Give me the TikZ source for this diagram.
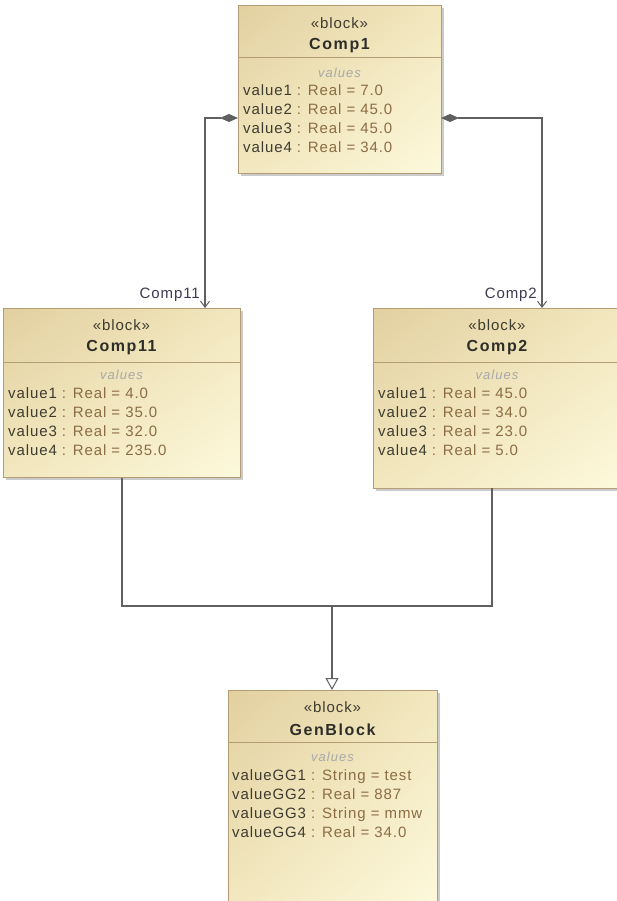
\documentclass[tikz,border=0pt]{standalone}
\usepackage{fontspec}
\setmainfont{Liberation Sans}
\newfontfamily\rowfont[LetterSpace=6]{Liberation Sans}
\newfontfamily\namefont[LetterSpace=10]{Liberation Sans}
\newfontfamily\compfont[LetterSpace=8]{Liberation Sans}
\usetikzlibrary{arrows.meta,shadows,shadings}
\definecolor{bborder}{HTML}{B49C74}
\definecolor{fillul}{HTML}{E2D0A0}
\definecolor{fillur}{HTML}{F2E7BE}
\definecolor{fillll}{HTML}{F2E7BE}
\definecolor{filllr}{HTML}{FDF9DC}
\definecolor{namec}{HTML}{3E3C30}
\definecolor{typec}{HTML}{8C6C44}
\definecolor{titlec}{HTML}{2E2E28}
\definecolor{compc}{HTML}{A8A8A8}
\definecolor{linec}{HTML}{606060}
\definecolor{rolec}{HTML}{3C3A50}
\begin{document}
\begin{tikzpicture}[x=1pt,y=-1pt,
  blockbox/.style={rectangle, draw=bborder, line width=1pt, anchor=north west, inner sep=0pt,
    upper left=fillul, upper right=fillur, lower left=fillll, lower right=filllr,
    drop shadow={shadow xshift=2.5pt, shadow yshift=-2.5pt, fill=black!40, opacity=0.5}},
  divider/.style={draw=bborder, line width=1pt},
  stereo/.style={font=\rowfont\fontsize{15}{18}\selectfont, text=namec, inner sep=0pt},
  bname/.style={font=\namefont\fontsize{16}{19}\selectfont\bfseries, text=titlec, inner sep=0pt},
  comptitle/.style={font=\compfont\fontsize{13}{16}\selectfont\itshape, text=compc, inner sep=0pt},
  row/.style={font=\rowfont\fontsize{15}{18}\selectfont, text=namec, anchor=west, inner sep=0pt,
    text height=12.5pt, text depth=1.5pt},
  rolelabel/.style={font=\rowfont\fontsize{15}{18}\selectfont, text=rolec, inner sep=0pt},
  conn/.style={draw=linec, line width=1.2pt},
  compo/.style={conn, {Diamond[length=18pt,width=8pt,fill=linec]}-{Straight Barb[length=6pt,width=9pt,line width=1pt]}},
  gener/.style={conn, -{Triangle[open,length=12pt,width=13pt,line width=1pt,fill=white]}}
]
\path[use as bounding box, fill=white] (0,0) rectangle (616,901);

% ---------- Comp1 ----------
\node[blockbox, minimum width=203pt, minimum height=168pt] (c1) at (238,5) {};
\draw[divider] (238,58) -- (441,58);
\node[stereo] (c1s) at (339.5,23) {«block»};
\node[bname] (c1n) at (339.5,46) {Comp1};
\node[comptitle] (c1v) at (339.5,73) {values};
\node[row] (c1r1) at (243,90) {value1 \textcolor{typec}{: Real = 7.0}};
\node[row] (c1r2) at (243,109) {value2 \textcolor{typec}{: Real = 45.0}};
\node[row] (c1r3) at (243,128) {value3 \textcolor{typec}{: Real = 45.0}};
\node[row] (c1r4) at (243,147) {value4 \textcolor{typec}{: Real = 34.0}};

% ---------- Comp11 ----------
\node[blockbox, minimum width=237pt, minimum height=169pt] (c11) at (3,308) {};
\draw[divider] (3,362) -- (240,362);
\node[stereo] (c11s) at (121.5,325) {«block»};
\node[bname] (c11n) at (121.5,348) {Comp11};
\node[comptitle] (c11v) at (121.5,375) {values};
\node[row] (c11r1) at (8,393) {value1 \textcolor{typec}{: Real = 4.0}};
\node[row] (c11r2) at (8,412) {value2 \textcolor{typec}{: Real = 35.0}};
\node[row] (c11r3) at (8,431) {value3 \textcolor{typec}{: Real = 32.0}};
\node[row] (c11r4) at (8,450) {value4 \textcolor{typec}{: Real = 235.0}};

% ---------- Comp2 ----------
\node[blockbox, minimum width=248pt, minimum height=180pt] (c2) at (373,308) {};
\draw[divider] (373,362) -- (621,362);
\node[stereo] (c2s) at (497,325) {«block»};
\node[bname] (c2n) at (497,348) {Comp2};
\node[comptitle] (c2v) at (497,375) {values};
\node[row] (c2r1) at (378,393) {value1 \textcolor{typec}{: Real = 45.0}};
\node[row] (c2r2) at (378,412) {value2 \textcolor{typec}{: Real = 34.0}};
\node[row] (c2r3) at (378,431) {value3 \textcolor{typec}{: Real = 23.0}};
\node[row] (c2r4) at (378,450) {value4 \textcolor{typec}{: Real = 5.0}};

% ---------- GenBlock ----------
\node[blockbox, minimum width=209pt, minimum height=215pt] (gen) at (228,690) {};
\draw[divider] (228,742) -- (437,742);
\node[stereo] (gens) at (332.5,707) {«block»};
\node[bname] (genn) at (332.5,730) {GenBlock};
\node[comptitle] (genv) at (332.5,757) {values};
\node[row] (genr1) at (232,775) {valueGG1 \textcolor{typec}{: String = test}};
\node[row] (genr2) at (232,794) {valueGG2 \textcolor{typec}{: Real = 887}};
\node[row] (genr3) at (232,813) {valueGG3 \textcolor{typec}{: String = mmw}};
\node[row] (genr4) at (232,832) {valueGG4 \textcolor{typec}{: Real = 34.0}};

% ---------- connectors ----------
\coordinate (s11) at (238,118);
\coordinate (t11) at (205,308);
\coordinate (s2) at (441,118);
\coordinate (t2) at (542,308);
\draw[compo] (s11) -| (t11);
\draw[compo] (s2) -| (t2);
\node[rolelabel, anchor=east] (l11) at (200,295) {Comp11};
\node[rolelabel, anchor=east] (l2) at (537,295) {Comp2};

\coordinate (j) at (332,606);
\coordinate (b2) at (492,488);
\draw[conn] (c11.south) |- (j);
\draw[conn] (b2) |- (j);
\draw[gener] (j) -- (j |- gen.north);
\end{tikzpicture}
\end{document}
